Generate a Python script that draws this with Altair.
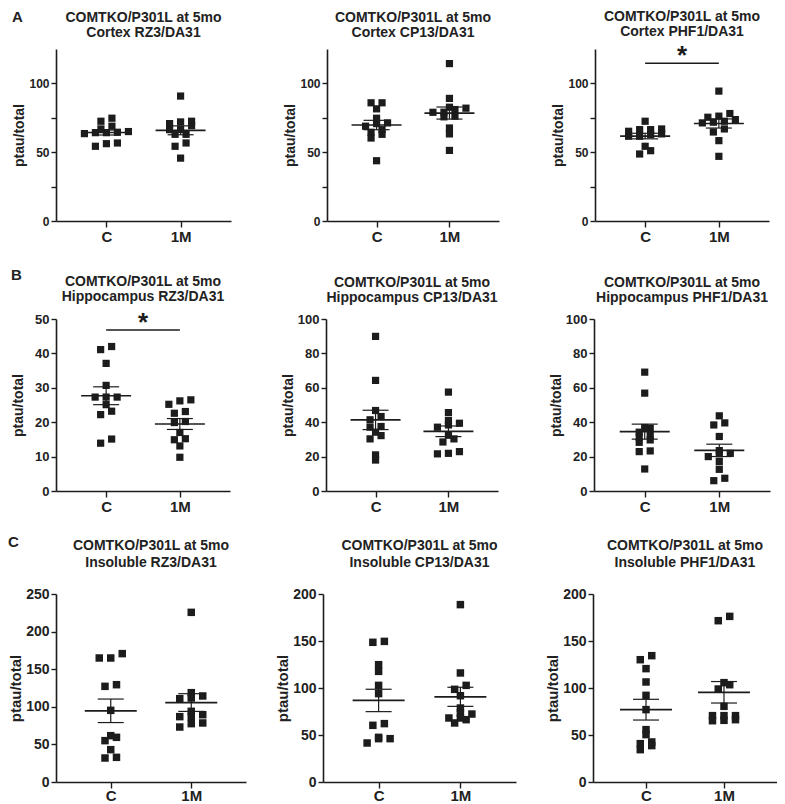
import altair as alt
import pandas as pd

# ---------------- data ----------------
GROUPS = ["C", "1M"]
TITLE_LINE1 = "COMTKO/P301L at 5mo"
PANEL_NAMES = [
    ["Cortex RZ3/DA31", "Cortex CP13/DA31", "Cortex PHF1/DA31"],
    ["Hippocampus RZ3/DA31", "Hippocampus CP13/DA31", "Hippocampus PHF1/DA31"],
    ["Insoluble RZ3/DA31", "Insoluble CP13/DA31", "Insoluble PHF1/DA31"],
]
ROW_LETTERS = ["A", "B", "C"]
Y_TITLE = "ptau/total"

cortex_rz3_C = [72.5, 74.7, 64.2, 64.2, 66.9, 68.9, 54.3, 56.7, 56.2, 64.5, 63.5, 65.0]
cortex_rz3_1M = [90.8, 72.5, 72.0, 66.4, 69.3, 70.8, 63.0, 63.0, 56.7, 54.3, 45.7, 66.5]
cortex_cp13_C = [85.9, 85.9, 81.5, 70.8, 71.3, 74.7, 64.5, 66.4, 63.0, 68.9, 60.3, 43.8]
cortex_cp13_1M = [114.4, 89.1, 79.1, 81.0, 82.0, 82.7, 76.2, 75.7, 67.6, 63.3, 51.3, 79.0]
cortex_phf1_C = [66.4, 66.4, 72.5, 66.9, 61.6, 62.8, 61.6, 63.3, 54.3, 48.7, 51.1, 65.2]
cortex_phf1_1M = [94.4, 73.7, 76.2, 78.1, 75.4, 72.5, 71.3, 71.8, 66.9, 64.7, 58.4, 47.0]

hippo_rz3_C = [42.0, 41.1, 37.1, 30.7, 27.3, 27.3, 27.3, 25.1, 22.2, 23.2, 13.9, 15.1]
hippo_rz3_1M = [26.2, 26.5, 23.1, 25.2, 22.6, 19.9, 20.2, 17.0, 15.2, 14.9, 13.1, 9.8]
hippo_cp13_C = [89.9, 64.3, 46.8, 41.4, 43.3, 37.5, 37.1, 34.2, 32.2, 30.3, 21.0, 18.0]
hippo_cp13_1M = [57.5, 45.6, 38.4, 39.4, 41.0, 37.1, 32.4, 30.3, 28.5, 21.6, 22.9, 21.9]
hippo_phf1_C = [69.1, 56.9, 32.2, 34.2, 36.5, 36.9, 29.7, 28.3, 31.3, 23.3, 22.9, 12.8]
hippo_phf1_1M = [43.7, 38.4, 39.6, 31.7, 21.9, 23.5, 21.6, 17.1, 12.6, 6.0, 7.4, 20.0]

insol_rz3_C = [164.9, 164.9, 170.7, 129.4, 127.2, 95.3, 61.6, 59.4, 55.0, 43.0, 31.9, 32.8]
insol_rz3_1M = [225.6, 118.8, 110.8, 111.7, 114.4, 94.0, 86.9, 86.9, 89.5, 77.6, 78.5, 73.1]
insol_cp13_C = [148.6, 149.6, 124.8, 117.7, 102.8, 94.0, 60.3, 62.1, 47.5, 46.1, 46.1, 41.5]
insol_cp13_1M = [188.7, 116.0, 102.8, 98.6, 91.8, 78.7, 72.3, 66.3, 62.8, 68.1, 73.4, 68.1]
insol_phf1_C = [134.4, 130.1, 120.6, 106.4, 92.2, 77.0, 55.7, 50.4, 42.6, 40.8, 38.7, 34.4]
insol_phf1_1M = [176.2, 171.6, 105.7, 98.9, 103.5, 80.5, 65.6, 70.6, 66.3, 70.6, 70.6, 65.2]

DATA = [
    [(cortex_rz3_C, cortex_rz3_1M), (cortex_cp13_C, cortex_cp13_1M), (cortex_phf1_C, cortex_phf1_1M)],
    [(hippo_rz3_C, hippo_rz3_1M), (hippo_cp13_C, hippo_cp13_1M), (hippo_phf1_C, hippo_phf1_1M)],
    [(insol_rz3_C, insol_rz3_1M), (insol_cp13_C, insol_cp13_1M), (insol_phf1_C, insol_phf1_1M)],
]

Y_MAX = [[125, 125, 125], [50, 100, 100], [250, 200, 200]]
Y_TICKS = [
    [[0, 25, 50, 75, 100]] * 3,
    [[0, 10, 20, 30, 40, 50], [0, 20, 40, 60, 80, 100], [0, 20, 40, 60, 80, 100]],
    [[0, 50, 100, 150, 200, 250], [0, 50, 100, 150, 200], [0, 50, 100, 150, 200]],
]
Y_LABEL_STEP = [[50, 50, 50], [10, 20, 20], [50, 50, 50]]
# significance brackets (row, col) -> bracket level
SIGNIF = {(0, 2): 114.6, (1, 0): 46.8}

# ---------------- styling ----------------
FONT = "Liberation Sans"
INK = "#1c1c1c"
TXT = "#222222"
X_DOMAIN = [0.32, 2.68]

ROW_STYLE = [
    dict(widths=[175, 172, 174], height=172, spacing=52, extent=27, ytitle_fs=14,
         ylab_fs=12, xlab_fs=15, xlab_pad=2, title_fs=14, title_lh=15, gap=10, marker=52,
         step=11, mean_hw=25, cap_hw=13, letter_off=-15),
    dict(widths=[174, 172, 176], height=172, spacing=51, extent=28, ytitle_fs=14,
         ylab_fs=13, xlab_fs=15, xlab_pad=2, title_fs=14, title_lh=15, gap=15, marker=52,
         step=11, mean_hw=25, cap_hw=13, letter_off=-8),
    dict(widths=[190, 193, 184], height=188, spacing=29, extent=30, ytitle_fs=15,
         ylab_fs=14, xlab_fs=15, xlab_pad=0, title_fs=14, title_lh=17, gap=24, marker=56,
         step=11.5, mean_hw=26, cap_hw=13, letter_off=-11),
]
ROW_SPACING = [24, 21]
STAR_FS = 26
STAR_DY = 1


def swarm_offsets(vals, px_per_unit, step_px, thresh_px=4.5):
    """Deterministic beeswarm: points closer than thresh_px share a row, rows are centred."""
    order = sorted(range(len(vals)), key=lambda i: vals[i])
    rows, cur = [], []
    for i in order:
        if cur and (vals[i] - vals[cur[0]]) * px_per_unit <= thresh_px:
            cur.append(i)
        else:
            if cur:
                rows.append(cur)
            cur = [i]
    if cur:
        rows.append(cur)
    offs = [0.0] * len(vals)
    for row in rows:
        n = len(row)
        for k, i in enumerate(row):
            offs[i] = (k - (n - 1) / 2) * step_px
    return offs


def panel(r, c):
    st = ROW_STYLE[r]
    w, h = st["widths"][c], st["height"]
    ymax = Y_MAX[r][c]
    pxx = w / (X_DOMAIN[1] - X_DOMAIN[0])
    pxy = h / ymax

    recs = []
    for gi, (g, vals) in enumerate(zip(GROUPS, DATA[r][c])):
        offs = swarm_offsets(vals, pxy, st["step"])
        for v, o in zip(vals, offs):
            recs.append({"group": g, "gx": gi + 1, "xp": gi + 1 + o / pxx, "value": v})
    df = pd.DataFrame(recs)

    xs = alt.Scale(domain=X_DOMAIN, nice=False, zero=False)
    ys = alt.Scale(domain=[0, ymax], nice=False, zero=False)
    xaxis = alt.Axis(values=[1, 2], labelExpr="datum.value == 1 ? 'C' : '1M'", title=None,
                     grid=False, domainColor=INK, domainWidth=1.6, tickColor=INK, tickWidth=1.4,
                     tickSize=6, labelPadding=st["xlab_pad"], labelFont=FONT, labelFontWeight="bold",
                     labelFontSize=st["xlab_fs"], labelColor=TXT, labelFlush=False)
    step = Y_LABEL_STEP[r][c]
    yaxis = alt.Axis(values=Y_TICKS[r][c], labelExpr=f"datum.value % {step} == 0 ? datum.label : ''",
                     title=Y_TITLE, grid=False, domainColor=INK, domainWidth=1.6, tickColor=INK,
                     tickWidth=1.4, tickSize=5, labelPadding=2, labelFont=FONT,
                     labelFontWeight="bold", labelFontSize=st["ylab_fs"], labelColor=TXT,
                     titleFont=FONT, titleFontWeight="bold", titleFontSize=st["ytitle_fs"],
                     titleColor=TXT, titlePadding=3, minExtent=st["extent"], maxExtent=st["extent"],
                     labelFlush=False)

    def X(f):
        return alt.X(f, type="quantitative", scale=xs, axis=xaxis)

    def Y(f):
        return alt.Y(f, type="quantitative", scale=ys, axis=yaxis)

    base = alt.Chart(df)
    pts = base.mark_point(shape="square", filled=True, size=st["marker"], color=INK, opacity=1).encode(
        x=X("xp"), y=Y("value"))

    summ = base.transform_aggregate(
        mean="mean(value)", sem="stderr(value)", groupby=["gx"]
    ).transform_calculate(
        lo="datum.mean - datum.sem", hi="datum.mean + datum.sem",
        m1=f"datum.gx - {st['mean_hw'] / pxx}", m2=f"datum.gx + {st['mean_hw'] / pxx}",
        c1=f"datum.gx - {st['cap_hw'] / pxx}", c2=f"datum.gx + {st['cap_hw'] / pxx}",
    )
    mean_line = summ.mark_rule(color=INK, strokeWidth=1.7).encode(x=X("m1"), x2="m2:Q", y=Y("mean"))
    cap_hi = summ.mark_rule(color=INK, strokeWidth=1.2).encode(x=X("c1"), x2="c2:Q", y=Y("hi"))
    cap_lo = summ.mark_rule(color=INK, strokeWidth=1.2).encode(x=X("c1"), x2="c2:Q", y=Y("lo"))
    vert = summ.mark_rule(color=INK, strokeWidth=1.2).encode(x=X("gx"), y=Y("lo"), y2="hi:Q")

    layers = [mean_line, cap_hi, cap_lo, vert, pts]

    # how far things stick out above the plot (label of top tick, asterisk)
    over = st["ylab_fs"] / 2 if ymax % step == 0 and ymax in Y_TICKS[r][c] else 0.75
    if (r, c) in SIGNIF:
        yb = SIGNIF[(r, c)]
        sdf = pd.DataFrame({"x1": [1], "x2": [2], "y": [yb]})
        sb = alt.Chart(sdf)
        br = sb.mark_rule(color=INK, strokeWidth=1.4).encode(x=X("x1"), x2="x2:Q", y=Y("y"))
        star = sb.transform_calculate(xm="(datum.x1 + datum.x2) / 2").mark_text(
            text="*", font=FONT, fontWeight="bold", fontSize=STAR_FS, color=INK,
            baseline="alphabetic", align="center", dy=STAR_DY
        ).encode(x=X("xm"), y=Y("y"))
        layers += [br, star]
        ypx = (1 - yb / ymax) * h
        over = max(over, round(0.8 * STAR_FS) - STAR_DY - ypx)

    title = alt.TitleParams(
        text=[TITLE_LINE1, PANEL_NAMES[r][c]], font=FONT, fontWeight="bold",
        fontSize=st["title_fs"], lineHeight=st["title_lh"], color=TXT, anchor="middle",
        frame="group", offset=st["gap"] - over,
    )
    return alt.layer(*layers).properties(width=w, height=h, title=title)


rows = []
for r in range(3):
    st = ROW_STYLE[r]
    row = alt.hconcat(*[panel(r, c) for c in range(3)], spacing=st["spacing"]).properties(
        title=alt.TitleParams(ROW_LETTERS[r], anchor="start", frame="bounds", font=FONT,
                              fontWeight="bold", fontSize=15, color=TXT, offset=st["letter_off"])
    )
    rows.append(row)

chart = alt.vconcat(
    alt.vconcat(rows[0], rows[1], spacing=ROW_SPACING[0]), rows[2], spacing=ROW_SPACING[1]
).properties(padding={"top": 2, "left": 0, "right": 0, "bottom": 0}).configure_view(stroke=None)

chart.save("out.html", embed_options={"renderer": "svg", "actions": False})
